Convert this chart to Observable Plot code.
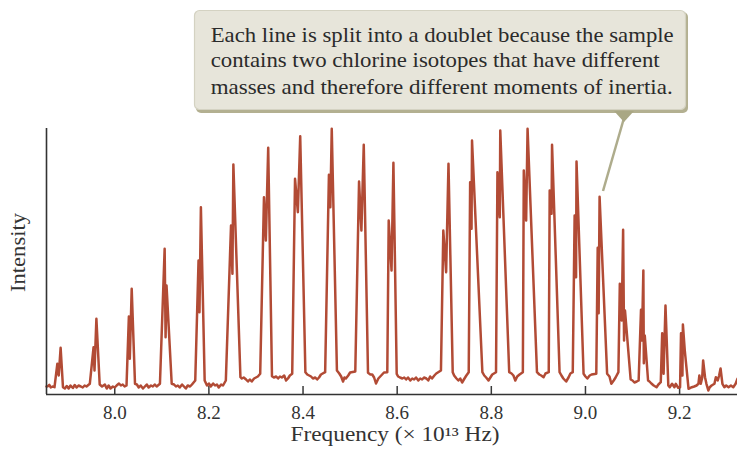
<!DOCTYPE html>
<html><head><meta charset="utf-8">
<script src="https://cdn.jsdelivr.net/npm/d3@7"></script>
<script src="https://cdn.jsdelivr.net/npm/@observablehq/plot@0.6"></script>
<style>
body{margin:0;background:#fff;}
#wrap{position:relative;width:737px;height:453px;}
#wrap svg{position:absolute;left:0;top:0;}
</style></head><body><div id="wrap"></div>
<script>
// Frequency (×10^13 Hz) and intensity (arbitrary units)
const freq = [
7.855,7.858,7.861,7.864,7.868,7.872,
7.878,7.881,7.885,7.890,
7.894,7.898,7.902,7.906,7.911,7.915,7.919,7.923,7.928,7.932,7.936,7.940,7.947,
7.955,7.957,7.961,7.968,
7.973,7.979,7.983,7.987,7.991,7.996,8.000,8.004,8.009,8.013,8.017,8.021,8.025,
8.030,8.032,8.036,8.043,
8.047,8.051,8.055,8.060,8.064,8.068,8.072,8.077,8.081,8.085,8.089,8.096,
8.106,8.108,8.110,8.121,
8.126,8.130,8.134,8.138,8.143,8.147,8.151,8.155,8.160,8.164,8.171,
8.178,8.180,8.183,8.191,
8.196,8.200,8.204,8.209,8.213,8.217,8.221,8.226,8.230,8.236,
8.247,8.250,8.252,8.267,
8.270,8.274,8.279,8.283,8.287,8.291,8.296,8.300,8.304,8.309,
8.317,8.321,8.326,8.334,
8.338,8.343,8.347,8.351,8.355,8.360,8.364,8.368,8.372,8.377,
8.383,8.389,8.394,8.405,
8.409,8.413,8.417,8.421,8.426,8.430,8.434,8.438,8.447,
8.455,8.458,8.461,8.472,
8.477,8.481,8.485,8.488,8.491,8.496,8.500,8.511,
8.519,8.524,8.529,8.538,
8.543,8.547,8.551,8.555,8.560,8.564,8.568,8.572,8.579,
8.582,8.588,8.592,8.599,
8.602,8.606,8.611,8.615,8.619,8.623,8.628,8.632,8.636,8.640,8.645,8.649,8.653,8.657,8.662,8.666,8.670,8.674,8.679,8.683,8.693,
8.698,8.704,8.709,8.718,
8.721,8.726,8.730,8.734,8.738,8.743,8.747,8.752,
8.755,8.758,8.759,8.781,
8.785,8.789,8.794,8.798,8.802,8.810,
8.813,8.818,8.819,8.838,
8.843,8.847,8.851,8.855,8.860,8.867,
8.869,8.874,8.877,8.897,
8.902,8.906,8.911,8.915,8.922,
8.924,8.928,8.929,8.945,
8.949,8.953,8.959,8.964,8.968,8.973,
8.977,8.980,8.981,8.996,
9.000,9.004,9.009,9.013,9.023,
9.026,9.028,9.030,9.046,
9.051,9.055,9.060,9.064,9.070,
9.073,9.077,9.080,9.082,9.084,9.096,
9.100,9.104,9.109,9.113,
9.118,9.120,9.123,9.124,9.126,9.133,
9.136,9.140,9.145,9.151,9.155,9.160,
9.163,9.166,9.170,9.176,
9.179,9.184,9.189,9.192,9.197,9.201,
9.203,9.206,9.207,9.211,9.219,
9.226,9.231,9.236,9.240,9.242,9.245,9.248,9.250,9.254,9.257,9.261,9.264,9.268,9.274,9.277,9.281,9.284,9.287,9.291,9.295,9.299,9.304,9.309,9.314,9.319,9.323
];
const intensity = [
8,8.3,9.7,7,8,7.3,
30.7,19,46.7,7.3,
6,8.5,6,9,6.5,9.5,7,9,8,7,9,8,10.7,
47.3,24,75.7,10,
8,10,6,9,6,8,7,9,11,9,10,8,9,
78,35.7,105.7,10.7,
10,7,9,6,8,10,7,9,8,10,8,10.7,
145.7,57.3,109,10.7,
10,8,9,7,10,8,6,9,8,10,14,
134,82.3,187.3,14,
9,11,8,11,9,10,7,10,9,14,
169,120.7,230,17.3,
16,17,15,13,15,13,16,17,18,20.7,
197.3,154,246.7,18.3,
17,18,16,18,17,19,14,16,19,20.7,
215.7,182.3,258.3,22.3,
20,19,18,16,17,15,17,20,22.3,
219.7,187.3,265.7,24,
21,18,13,17,16,19,22,23,
213,164,249.7,21.7,
20,20,17,11,16,18,20,22,22.3,
174,124,231.7,20.7,
18,17,16,17,15,17,14,16,15,17,14,16,15,17,16,14,18,16,19,21,24,
164,122.3,230.7,22.3,
19,16,14,16,12,16,19,22.3,
212.3,165.7,254,22.3,
19,17,14,17,20,22.3,
222.3,177.3,264,22.3,
21,19,14,18,20,22.3,
224,174,265.7,22.3,
20,19,17.3,21,22.3,
204,180.7,249.7,22.3,
19,16,13,17,21,22.3,
179,117.3,233,20.7,
18,16,19,20,20.7,
146.7,81.3,197.7,20.7,
18,10.7,14,17,22.3,
110.7,74,164.7,54,84,15,
14,12,13,14,
84.7,54,124,31.3,59,14,
13,11,9,7.3,10,12.3,
61.3,20.7,89,9,
7.3,10.7,7.3,10.7,6.7,7.3,
61.3,19,70,44,5.7,
7.3,8,9,10.7,19,10.7,16.7,34,17.3,10.7,4,7.3,9,10.7,17.3,14,19,26,10.7,7.3,9,7.3,9,7.3,10.7,15.7
];
const tickValues = [8.0, 8.2, 8.4, 8.6, 8.8, 9.0, 9.2];
const tickLabels = ["8.0", "8.2", "8.4", "8.6", "8.8", "9.0", "9.2"];
const xLabel = "Frequency (\u00d7 10\u00b9\u00b3 Hz)";
const yLabel = "Intensity";
const calloutLines = [
  "Each line is split into a doublet because the sample",
  "contains two chlorine isotopes that have different",
  "masses and therefore different moments of inertia."
];

const data = freq.map((f, i) => ({f, v: intensity[i]}));
const xDomain = [7.855, 9.323];
const yDomain = [0, 266];
const font = "'Liberation Serif', 'DejaVu Serif', serif";

const chart = Plot.plot({
  width: 737, height: 453,
  marginTop: 128, marginBottom: 59, marginLeft: 46, marginRight: 0,
  style: {fontFamily: font, background: "white", overflow: "visible"},
  x: {domain: xDomain},
  y: {domain: yDomain, axis: null},
  marks: [
    Plot.axisX(tickValues, {tickSize: 0, tickPadding: 11, fontSize: 19, color: "#333",
      tickFormat: d => tickLabels[tickValues.indexOf(d)], label: null}),
    Plot.ruleX(tickValues, {y1: 0, y2: 8, stroke: "#3a3a3a", strokeWidth: 1.5}),
    Plot.line(data, {x: "f", y: "v", stroke: "#b24b35", strokeWidth: 2.5}),
    Plot.ruleY([0], {stroke: "#333", strokeWidth: 1.6}),
    Plot.ruleX([xDomain[0]], {y1: yDomain[0], y2: yDomain[1], stroke: "#333", strokeWidth: 1.6}),
    Plot.text([xLabel], {frameAnchor: "bottom", dy: 46, dx: 3, fontSize: 20, fill: "#333"}),
    Plot.text([yLabel], {frameAnchor: "left", textAnchor: "middle", rotate: -90, dx: -28, dy: -9, fontSize: 20, fill: "#333"})
  ]
});
d3.select(chart).selectAll("text")
  .filter(function() { return this.textContent === xLabel; })
  .attr("textLength", 209).attr("lengthAdjust", "spacingAndGlyphs");
d3.select(chart).selectAll("text")
  .filter(function() { return this.textContent === yLabel; })
  .attr("textLength", 79).attr("lengthAdjust", "spacingAndGlyphs");
const wrap = document.getElementById("wrap");
wrap.appendChild(chart);

// callout overlay
const svg = d3.create("svg").attr("width", 737).attr("height", 453).style("pointer-events", "none");
svg.append("line").attr("x1", 624).attr("y1", 118).attr("x2", 603).attr("y2", 191)
  .attr("stroke", "#aeac8c").attr("stroke-width", 2.5);
svg.append("rect").attr("x", 196).attr("y", 12).attr("width", 492).attr("height", 101).attr("rx", 5)
  .attr("fill", "#b3b091");
svg.append("rect").attr("x", 194.5).attr("y", 10.5).attr("width", 491).attr("height", 99).attr("rx", 5)
  .attr("fill", "#e7e5da").attr("stroke", "#d4d2c2").attr("stroke-width", 1.2);
svg.append("polygon").attr("points", "614,111 634,111 624,122").attr("fill", "#a9a784");
const widths = [463, 449, 462];
const baselines = [41.5, 67, 93.5];
calloutLines.forEach((t, i) => {
  svg.append("text").attr("x", 210.7).attr("y", baselines[i])
    .attr("font-family", font).attr("font-size", 21).attr("fill", "#2b2b2b")
    .attr("textLength", widths[i]).attr("lengthAdjust", "spacingAndGlyphs").text(t);
});
wrap.appendChild(svg.node());
</script></body></html>
